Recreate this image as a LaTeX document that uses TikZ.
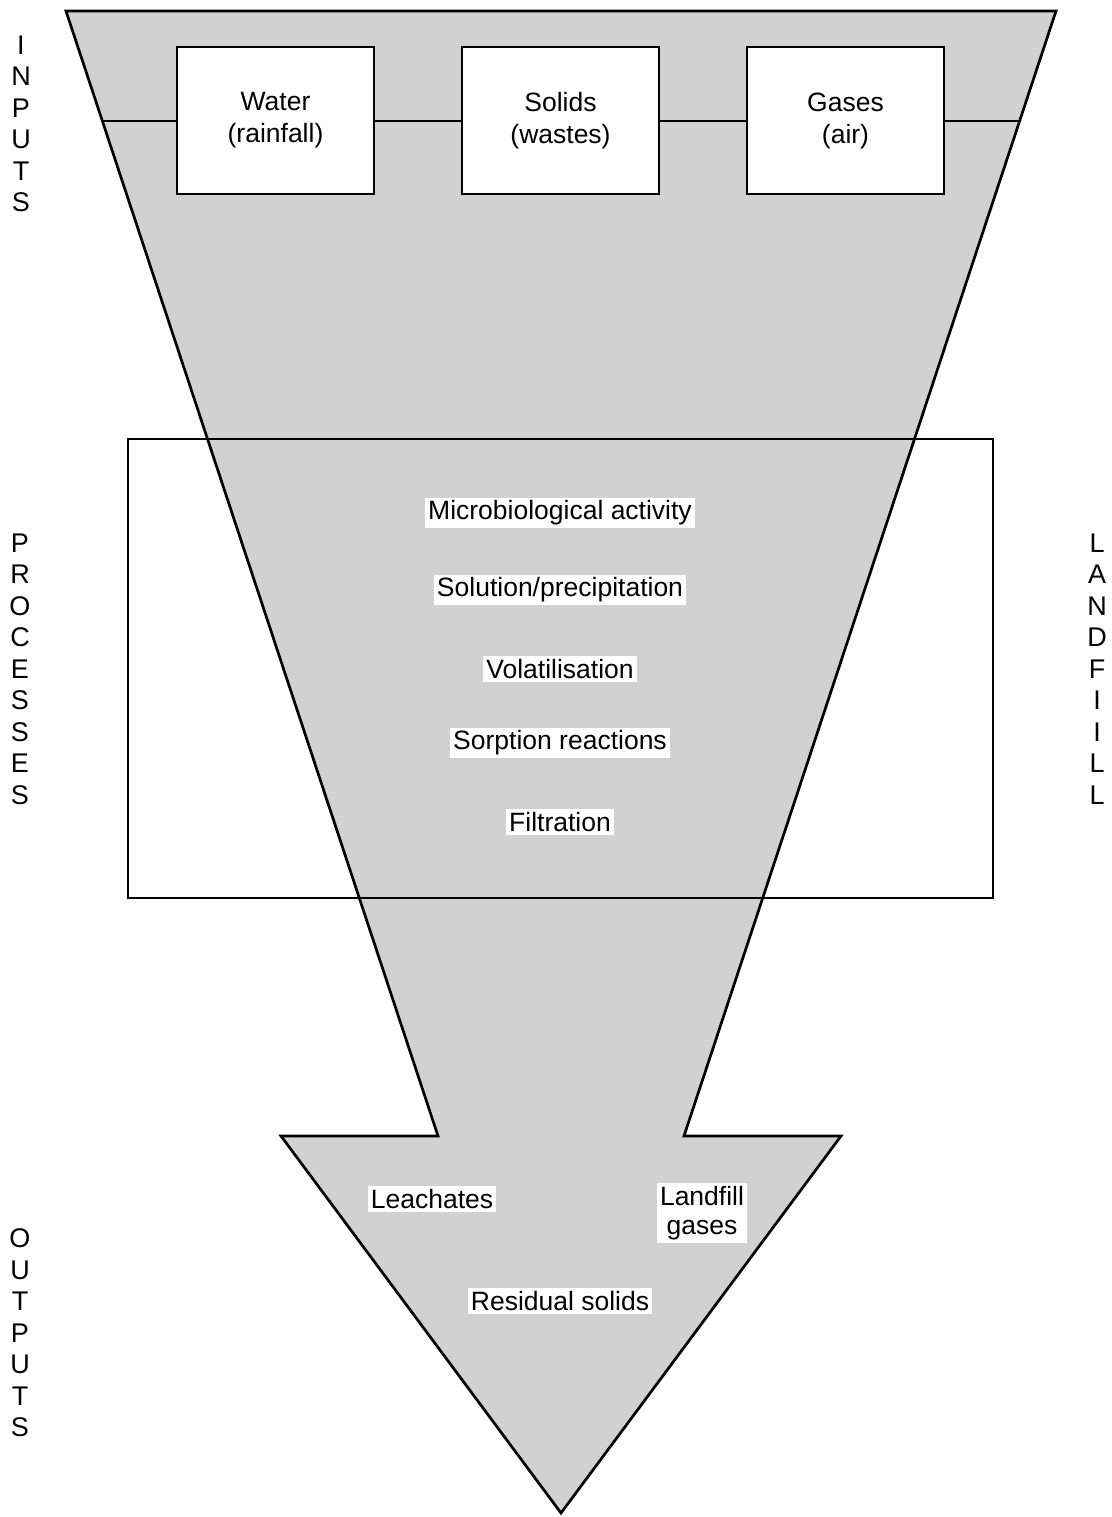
\documentclass[tikz,border=0pt]{standalone}
\usepackage{fontspec}
\setmainfont{Liberation Sans}
\begin{document}
\begin{tikzpicture}[x=1pt,y=-1pt,
  funnelfill/.style={fill=black!18,draw=black,line width=2.7pt,line join=miter},
  inbox/.style={draw=black,line width=2.7pt,fill=white,minimum width=197pt,minimum height=147pt,align=center,inner sep=0pt,font=\fontsize{26.5}{32}\selectfont},
  proc/.style={fill=white,inner sep=3pt,font=\fontsize{26.5}{30}\selectfont},
  outlab/.style={fill=white,inner sep=3pt,align=center,font=\fontsize{26.5}{29}\selectfont},
  sidelab/.style={align=center,font=\fontsize{27}{31.5}\selectfont,inner sep=0pt}]
\useasboundingbox (0,0) rectangle (1111,1517);
% funnel corners
\coordinate (tl) at (66,11);
\coordinate (tr) at (1056,11);
\coordinate (nr) at (684,1136);
\coordinate (ar) at (841,1136);
\coordinate (tip) at (561,1513);
\coordinate (al) at (281,1136);
\coordinate (nl) at (438,1136);
\draw[funnelfill] (tl) -- (tr) -- (nr) -- (ar) -- (tip) -- (al) -- (nl) -- cycle;
% processes frame
\draw[line width=2.2pt] (128,439) rectangle (993,898);
% input line
\coordinate (ll) at (102.4,121);
\coordinate (lr) at (1019.6,121);
\draw[line width=2.7pt] (ll) -- (lr);
% input boxes
\node[inbox] (water) at (275.5,120.5) {Water\\(rainfall)};
\node[inbox] (solids) at (560.5,120.5) {Solids\\(wastes)};
\node[inbox] (gases) at (845.5,120.5) {Gases\\(air)};
% processes
\node[proc] (p1) at (560,513) {Microbiological activity};
\node[proc] (p2) at (560,590) {Solution/precipitation};
\node[proc] (p3) at (560,669) {Volatilisation};
\node[proc] (p4) at (560,743) {Sorption reactions};
\node[proc] (p5) at (560,822) {Filtration};
% outputs
\node[outlab] (o1) at (432,1199) {Leachates};
\node[outlab] (o2) at (702,1213) {Landfill\\gases};
\node[outlab] (o3) at (560,1301) {Residual solids};
% side labels
\node[sidelab,anchor=north] (sin) at (21,35.5) {I\\N\\P\\U\\T\\S};
\node[sidelab,anchor=north] (spr) at (20,533.5) {P\\R\\O\\C\\E\\S\\S\\E\\S};
\node[sidelab,anchor=north] (sla) at (1097,533.5) {L\\A\\N\\D\\F\\I\\I\\L\\L};
\node[sidelab,anchor=north] (sou) at (20,1228.5) {O\\U\\T\\P\\U\\T\\S};
\end{tikzpicture}
\end{document}
